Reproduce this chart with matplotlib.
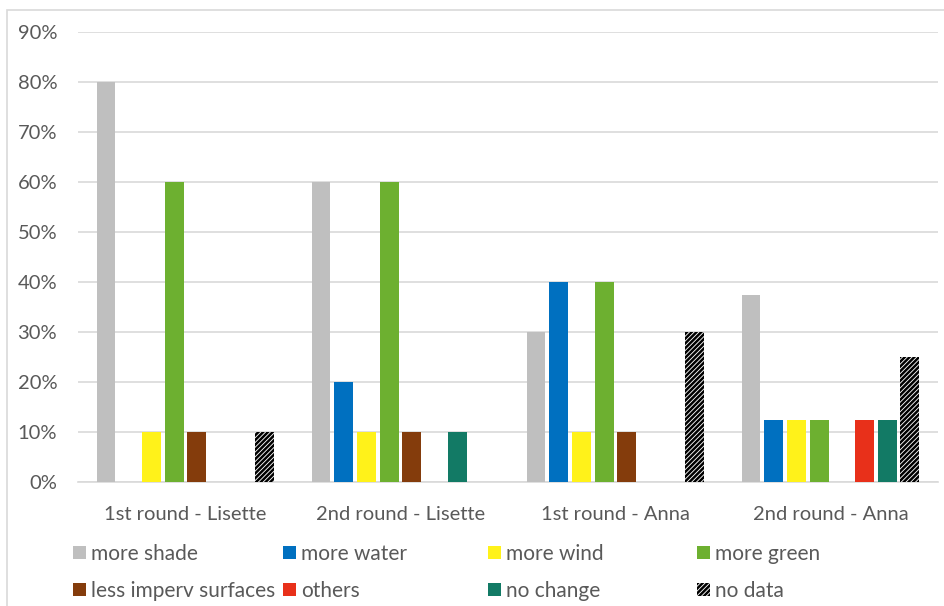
import numpy as np
import matplotlib.pyplot as plt
from matplotlib.patches import Patch, Rectangle
from matplotlib.ticker import PercentFormatter

plt.rcParams["font.family"] = ["Lato", "DejaVu Sans"]
plt.rcParams["hatch.linewidth"] = 1.8

groups = ["1st round - Lisette", "2nd round - Lisette", "1st round - Anna", "2nd round - Anna"]
series = ["more shade", "more water", "more wind", "more green",
          "less imperv surfaces", "others", "no change", "no data"]

more_shade = [0.80, 0.60, 0.30, 0.375]
more_water = [0.0, 0.20, 0.40, 0.125]
more_wind = [0.10, 0.10, 0.10, 0.125]
more_green = [0.60, 0.60, 0.40, 0.125]
less_imperv = [0.10, 0.10, 0.10, 0.0]
others = [0.0, 0.0, 0.0, 0.125]
no_change = [0.0, 0.10, 0.0, 0.125]
no_data = [0.10, 0.0, 0.30, 0.25]

values = [more_shade, more_water, more_wind, more_green,
          less_imperv, others, no_change, no_data]
colors = ["#BFBFBF", "#0070C0", "#FFF21A", "#6DB030",
          "#843C0C", "#E8301A", "#127A65", "white"]
hatches = [None] * 7 + ["///////"]

text_color = "#595959"
grid_color = "#D9D9D9"

fig = plt.figure(figsize=(9.44, 6.06), dpi=100)
ax = fig.add_axes([0.0826, 0.2046, 0.9110, 0.7426])

x = np.arange(len(groups))
step = 0.1056
width = 0.088
for i, (vals, c, h) in enumerate(zip(values, colors, hatches)):
    pos = x - 3.5 * step + i * step
    if h:
        ax.bar(pos, vals, width, color="white", edgecolor="black",
               hatch=h, linewidth=0, zorder=3)
    else:
        ax.bar(pos, vals, width, color=c, linewidth=0, zorder=3)

ax.set_xlim(-0.5, len(groups) - 0.5)
ax.set_ylim(0, 0.9)
ax.set_yticks(np.arange(0, 0.91, 0.1))
ax.yaxis.set_major_formatter(PercentFormatter(1.0, decimals=0))
ax.grid(axis="y", color=grid_color, linewidth=1.2, zorder=0)
ax.set_xticks(x)
ax.set_xticklabels(groups)
ax.tick_params(axis="both", length=0, labelsize=14.5, colors=text_color)
ax.tick_params(axis="y", pad=15)
ax.tick_params(axis="x", pad=17)
for s in ["top", "right", "left"]:
    ax.spines[s].set_visible(False)
ax.spines["bottom"].set_color(grid_color)
ax.spines["bottom"].set_linewidth(1.2)

# legend laid out in four equal columns
handles = []
for c, h in zip(colors, hatches):
    if h:
        handles.append(Patch(facecolor="white", edgecolor="black", hatch=h, linewidth=0))
    else:
        handles.append(Patch(facecolor=c, linewidth=0))

col_x = [0.0773, 0.2998, 0.517, 0.738]
for col in range(4):
    idx = [col, col + 4]
    leg = fig.legend([handles[k] for k in idx], [series[k] for k in idx],
                     loc="upper left", bbox_to_anchor=(col_x[col], 0.1023),
                     frameon=False, fontsize=15, handlelength=0.62, handleheight=0.62,
                     handletextpad=0.24, labelspacing=0.8, borderpad=0,
                     borderaxespad=0)
    for t in leg.get_texts():
        t.set_color(text_color)

# outer chart border
fig.patches.append(Rectangle((7 / 944, -0.1), 1.2, 1 - 10 / 606 + 0.1,
                             transform=fig.transFigure, fill=False,
                             edgecolor="#D9D9D9", linewidth=1.2))

fig.savefig("out.png", dpi=100)
